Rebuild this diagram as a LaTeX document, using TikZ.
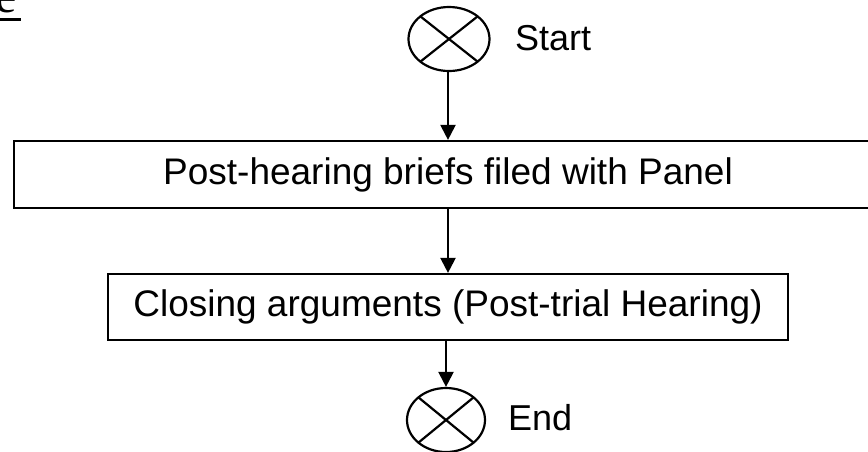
\documentclass[tikz,border=0pt]{standalone}
\usepackage{fontspec}
\setmainfont{Liberation Sans}
\newfontfamily\serifface{Liberation Serif}
\usetikzlibrary{arrows.meta,shapes.geometric}
\tikzset{
  lbl/.style={font=\fontsize{36}{43}\selectfont, inner sep=0pt},
  terminal/.style={ellipse, draw, line width=2.2pt, inner sep=0pt,
    path picture={\draw[line width=2.2pt]
      (path picture bounding box.north west) -- (path picture bounding box.south east)
      (path picture bounding box.north east) -- (path picture bounding box.south west);}},
  stepbox/.style={rectangle, draw, line width=2.2pt, inner sep=0pt,
    font=\fontsize{37}{44}\selectfont},
  flow/.style={line width=2.2pt, -{Triangle[length=15pt,width=15pt]}}
}
\begin{document}
\begin{tikzpicture}[x=1pt,y=-1pt]
\useasboundingbox (0,0) rectangle (868,451);

% underlined fragment at the top left corner
\node[anchor=base east, inner sep=0pt, font=\serifface\fontsize{48}{56}\selectfont] (frag) at (17.5,12) {e};
\draw[line width=3pt] (-5,19.5) -- (21,19.5);

% terminals
\node[terminal, minimum width=81pt, minimum height=64pt] (start) at (449,39) {};
\node[lbl, anchor=base west] (startlbl) at (515,50) {Start};
\node[terminal, minimum width=78pt, minimum height=64pt] (end) at (446,420) {};
\node[lbl, anchor=base west] (endlbl) at (508,430) {End};

% process steps
\node[stepbox, minimum width=868pt, minimum height=67pt] (briefs) at (448,174.5)
  {Post-hearing briefs filed with Panel};
\node[stepbox, minimum width=680pt, minimum height=66pt] (closing) at (448,307)
  {Closing arguments (Post-trial Hearing)};

% connectors
\draw[flow] (start.south -| briefs.north) -- (briefs.north);
\draw[flow] (briefs.south) -- (closing.north);
\draw[flow] (closing.south -| end.north) -- (end.north);
\end{tikzpicture}
\end{document}
